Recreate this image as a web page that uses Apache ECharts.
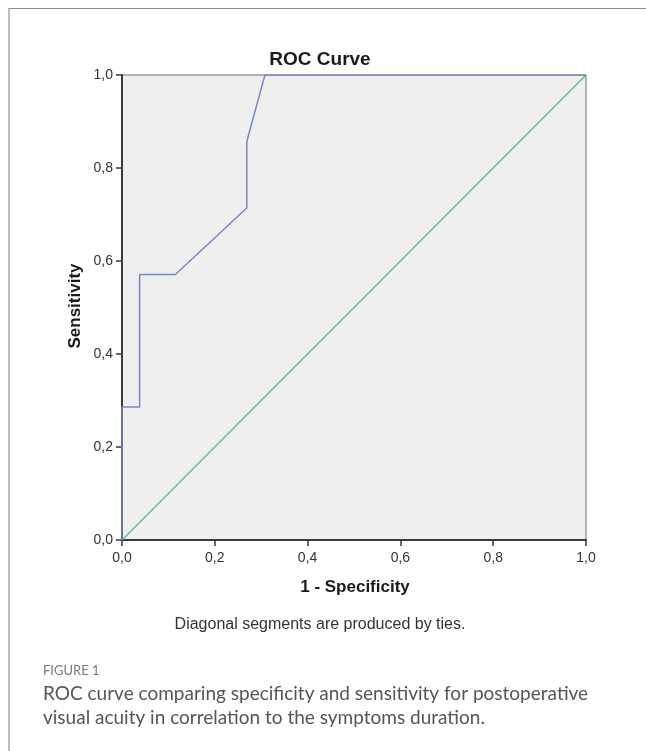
<!DOCTYPE html>
<html>
<head>
<meta charset="utf-8">
<script src="https://cdn.jsdelivr.net/npm/echarts@6/dist/echarts.min.js"></script>
<style>
    html, body { margin: 0; padding: 0; background: #fff; }
    #frame { position: absolute; left: 8px; top: 8px; width: 638px; height: 743px;
             border-left: 2px solid #bdbdbd; border-top: 1px solid #8c8c8c; box-sizing: border-box; }
    #chart { position: absolute; left: 0; top: 0; width: 646px; height: 751px; }
</style>
</head>
<body>
<div id="frame"></div>
<div id="chart"></div>
<script>
// ROC curve points (1 - specificity, sensitivity)
var rocFpr = [0, 0, 0.038, 0.038, 0.115, 0.269, 0.269, 0.308, 1];
var rocTpr = [0, 0.286, 0.286, 0.571, 0.571, 0.714, 0.857, 1, 1];
// reference line
var refFpr = [0, 1];
var refTpr = [0, 1];

function zip(xs, ys) {
    var out = [];
    for (var i = 0; i < xs.length; i++) {
        out.push([xs[i], ys[i]]);
    }
    return out;
}

function commaLabel(v) {
    return v.toFixed(1).replace('.', ',');
}

var textFont = 'Liberation Sans, Arial, sans-serif';

function makeAxis(labelMargin) {
    return {
        type: 'value',
        min: 0,
        max: 1,
        interval: 0.2,
        splitLine: { show: false },
        axisLine: { show: true, lineStyle: { color: '#3a3a3a', width: 2 } },
        axisTick: { show: true, inside: false, length: 6, lineStyle: { color: '#3a3a3a', width: 1.5 } },
        axisLabel: {
            margin: labelMargin,
            color: '#333',
            fontFamily: textFont,
            fontSize: 14,
            formatter: commaLabel
        }
    };
}

var option = {
    animation: false,
    grid: {
        left: 122,
        right: 60,
        top: 75,
        bottom: 211,
        show: true,
        backgroundColor: '#efefef',
        borderColor: '#6e6e6e',
        borderWidth: 1
    },
    xAxis: makeAxis(11),
    yAxis: makeAxis(9),
    series: [
        {
            type: 'line',
            data: zip(refFpr, refTpr),
            symbol: 'none',
            lineStyle: { color: '#6cc07a', width: 1.5 }
        },
        {
            type: 'line',
            data: zip(rocFpr, rocTpr),
            symbol: 'none',
            lineStyle: { color: '#7a87c6', width: 1.5 }
        }
    ],
    graphic: [
        {
            type: 'text', x: 320, y: 60,
            style: { text: 'ROC Curve', font: 'bold 19px ' + textFont, fill: '#1a1a1a', align: 'center', verticalAlign: 'middle' }
        },
        {
            type: 'text', x: 75, y: 306, rotation: Math.PI / 2,
            style: { text: 'Sensitivity', font: 'bold 17px ' + textFont, fill: '#1a1a1a', align: 'center', verticalAlign: 'middle' }
        },
        {
            type: 'text', x: 355, y: 587,
            style: { text: '1 - Specificity', font: 'bold 17px ' + textFont, fill: '#1a1a1a', align: 'center', verticalAlign: 'middle' }
        },
        {
            type: 'text', x: 320, y: 625,
            style: { text: 'Diagonal segments are produced by ties.', font: '16px ' + textFont, fill: '#333', align: 'center', verticalAlign: 'middle' }
        },
        {
            type: 'text', x: 43, y: 671,
            style: { text: 'FIGURE 1', font: '13px Lato, sans-serif', fill: '#7a7a7a', align: 'left', verticalAlign: 'middle' }
        },
        {
            type: 'text', x: 43, y: 694,
            style: { text: 'ROC curve comparing specificity and sensitivity for postoperative', font: '19px Lato, sans-serif', fill: '#555', align: 'left', verticalAlign: 'middle' }
        },
        {
            type: 'text', x: 43, y: 718,
            style: { text: 'visual acuity in correlation to the symptoms duration.', font: '19px Lato, sans-serif', fill: '#555', align: 'left', verticalAlign: 'middle' }
        }
    ]
};

var myChart = echarts.init(document.getElementById('chart'));
myChart.setOption(option);
</script>
</body>
</html>
